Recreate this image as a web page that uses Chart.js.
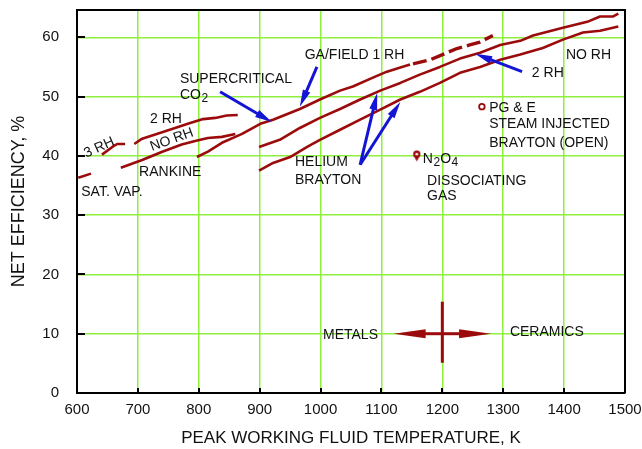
<!DOCTYPE html>
<html>
<head>
<meta charset="utf-8">
<title>Net efficiency vs peak working fluid temperature</title>
<script src="https://cdn.jsdelivr.net/npm/chart.js@4.4.1/dist/chart.umd.min.js"></script>
<style>
  html, body { margin: 0; padding: 0; background: #fff; }
  #c { display: block; }
</style>
</head>
<body>
<canvas id="c" width="642" height="449"></canvas>
<script>
// ---- axis ticks ----
const xTicks = [600, 700, 800, 900, 1000, 1100, 1200, 1300, 1400, 1500];
const yTicks = [0, 10, 20, 30, 40, 50, 60];

// ---- Rankine steam cycle curves [K, %] ----
const satVapDash  = [[602, 36.3], [623, 37.0]];
const rh3Dash     = [[641, 40.2], [658, 41.5], [666, 42.0], [679, 42.0]];
const rh2Rankine  = [[694, 42.0], [707, 42.9], [731, 43.7], [761, 44.7], [782, 45.4], [807, 46.2],
                     [827, 46.4], [846, 46.8], [864, 46.9]];
const noRhRankine = [[672, 38.0], [707, 39.3], [740, 40.7], [772, 41.9], [794, 42.5], [815, 43.0],
                     [838, 43.2], [860, 43.7]];

// ---- supercritical CO2 / GA field 1 RH ----
const gaFieldSolid  = [[797, 39.8], [815, 40.7], [838, 42.2], [860, 43.2], [871, 43.7], [901, 45.4],
                       [922, 46.1], [966, 47.9], [999, 49.5], [1032, 51.0], [1053, 51.7], [1086, 53.2],
                       [1109, 54.2], [1131, 54.9], [1147, 55.4]];
const gaFieldDashed = [[1147, 55.4], [1180, 56.2], [1224, 58.1], [1245, 58.7], [1262, 59.2], [1283, 60.3]];

// ---- helium Brayton curves ----
const heliumUpper = [[899, 41.5], [933, 42.7], [966, 44.7], [999, 46.4], [1032, 47.9], [1065, 49.5],
                     [1098, 51.0], [1131, 52.3], [1163, 53.7], [1196, 55.0], [1229, 56.4], [1262, 57.4],
                     [1295, 58.7], [1328, 59.4], [1349, 60.3], [1398, 61.6], [1438, 62.6], [1459, 63.5],
                     [1480, 63.5], [1489, 64.0]];
const heliumLower = [[899, 37.5], [922, 38.8], [950, 39.8], [978, 41.5], [999, 42.7], [1032, 44.4],
                     [1065, 46.1], [1098, 47.8], [1131, 49.5], [1163, 50.8], [1196, 52.3], [1229, 54.0],
                     [1262, 55.0], [1295, 56.2], [1328, 57.1], [1365, 58.2], [1398, 59.6], [1431, 60.8],
                     [1459, 61.1], [1489, 61.8]];

// ---- single-point cycles ----
const n2o4Point = [[1158, 40.0]];
const pgePoint  = [[1265, 48.3]];

// ---- pointer arrows: [tailX, tailY, tipX, tipY] ----
const pointerArrows = [
  [835, 50.8, 920, 45.7],     // supercritical CO2
  [994, 55.0, 966, 48.3],     // GA/FIELD 1 RH
  [1065, 38.5, 1093, 50.6],   // helium Brayton, upper
  [1065, 38.5, 1131, 49.1],   // helium Brayton, lower
  [1331, 54.2, 1254, 57.2]    // 2 RH
];

// ---- metals / ceramics marker ----
const materialsSpan  = [1120, 1280];   // horizontal double arrow, K
const materialsLevel = 10;             // %
const materialsSplit = 1200;           // K
const materialsTick  = [5.1, 15.4];    // vertical bar extent, %

// ---- annotations (anchor: left end of baseline, in data units) ----
const notes = [
  { parts: [['SUPERCRITICAL', 0]], x: 769, y: 52.3 },
  { parts: [['CO', 0], ['2', 1]], x: 769, y: 49.6 },
  { parts: [['2 RH', 0]], x: 720, y: 45.6 },
  { parts: [['NO RH', 0]], x: 723, y: 40.8, rot: -20 },
  { parts: [['3 RH', 0]], x: 615, y: 39.7, rot: -24 },
  { parts: [['RANKINE', 0]], x: 702, y: 36.6 },
  { parts: [['SAT. VAP.', 0]], x: 607, y: 33.2 },
  { parts: [['GA/FIELD 1 RH', 0]], x: 974, y: 56.4 },
  { parts: [['HELIUM', 0]], x: 958, y: 38.3 },
  { parts: [['BRAYTON', 0]], x: 958, y: 35.3 },
  { parts: [['N', 0], ['2', 1], ['O', 0], ['4', 1]], x: 1168, y: 38.8 },
  { parts: [['DISSOCIATING', 0]], x: 1175, y: 35.1 },
  { parts: [['GAS', 0]], x: 1175, y: 32.6 },
  { parts: [['PG & E', 0]], x: 1277, y: 47.4 },
  { parts: [['STEAM INJECTED', 0]], x: 1277, y: 44.7 },
  { parts: [['BRAYTON (OPEN)', 0]], x: 1277, y: 41.5 },
  { parts: [['NO RH', 0]], x: 1403, y: 56.4 },
  { parts: [['2 RH', 0]], x: 1347, y: 53.3 },
  { parts: [['METALS', 0]], x: 1004, y: 9.1 },
  { parts: [['CERAMICS', 0]], x: 1311, y: 9.6 }
];

// ---- styling ----
const RED = '#9c0b0b';
const BLUE = '#1414d4';
const GRID = '#8eef3c';
const INK = '#111';
const FONT = '"Liberation Sans", Arial, Helvetica, sans-serif';

const xy = arr => arr.map(p => ({ x: p[0], y: p[1] }));

function curve(arr, extra) {
  return Object.assign({
    data: xy(arr), showLine: true, borderColor: RED, borderWidth: 2.6,
    pointRadius: 0, pointHoverRadius: 0, tension: 0, fill: false,
    borderCapStyle: 'butt', borderJoinStyle: 'round'
  }, extra || {});
}

// small map-pin marker for the N2O4 point
function pinMarker() {
  const c = document.createElement('canvas');
  c.width = 9; c.height = 12;
  const g = c.getContext('2d');
  g.fillStyle = RED;
  g.beginPath(); g.arc(4.5, 4.2, 3.6, 0, Math.PI * 2); g.fill();
  g.beginPath(); g.moveTo(1.2, 5.8); g.lineTo(7.8, 5.8); g.lineTo(4.5, 11.5); g.closePath(); g.fill();
  g.fillStyle = '#fff';
  g.beginPath(); g.arc(4.5, 4.2, 1.3, 0, Math.PI * 2); g.fill();
  return c;
}

function arrow(ctx, x0, y0, x1, y1, color, shaftW, headLen, headHalf) {
  const a = Math.atan2(y1 - y0, x1 - x0);
  const c = Math.cos(a), s = Math.sin(a);
  const bx = x1 - headLen * c, by = y1 - headLen * s;
  ctx.strokeStyle = color; ctx.fillStyle = color;
  ctx.lineWidth = shaftW; ctx.lineCap = 'butt';
  ctx.beginPath(); ctx.moveTo(x0, y0); ctx.lineTo(bx + c * 2, by + s * 2); ctx.stroke();
  ctx.beginPath();
  ctx.moveTo(x1, y1);
  ctx.lineTo(bx + headHalf * s, by - headHalf * c);
  ctx.lineTo(bx - headHalf * s, by + headHalf * c);
  ctx.closePath(); ctx.fill();
}

function drawParts(ctx, parts, x, y, rot) {
  ctx.save();
  ctx.translate(x, y);
  if (rot) ctx.rotate(rot * Math.PI / 180);
  ctx.fillStyle = INK;
  ctx.textBaseline = 'alphabetic';
  ctx.textAlign = 'left';
  let cx = 0;
  parts.forEach(([t, sub]) => {
    ctx.font = (sub ? '12px ' : '14px ') + FONT;
    const dy = sub ? 3.5 : 0;
    if (sub) cx += 0.5;
    ctx.fillText(t, cx, dy);
    cx += ctx.measureText(t).width;
  });
  ctx.restore();
}

const decor = {
  id: 'decor',
  afterDatasetsDraw(chart) {
    const { ctx, scales: { x, y } } = chart;
    ctx.save();
    // blue pointer arrows
    pointerArrows.forEach(([ax, ay, bx, by]) => {
      arrow(ctx, x.getPixelForValue(ax), y.getPixelForValue(ay),
            x.getPixelForValue(bx), y.getPixelForValue(by), BLUE, 3, 17, 4);
    });
    // metals / ceramics double arrow with dividing bar
    const my = y.getPixelForValue(materialsLevel);
    const mx = x.getPixelForValue(materialsSplit);
    const l = x.getPixelForValue(materialsSpan[0]);
    const r = x.getPixelForValue(materialsSpan[1]);
    arrow(ctx, mx, my, l, my, RED, 3, 32, 4.5);
    arrow(ctx, mx, my, r, my, RED, 3, 32, 4.5);
    ctx.strokeStyle = RED; ctx.lineWidth = 3;
    ctx.beginPath();
    ctx.moveTo(mx, y.getPixelForValue(materialsTick[0]));
    ctx.lineTo(mx, y.getPixelForValue(materialsTick[1]));
    ctx.stroke();
    // text annotations
    notes.forEach(n => drawParts(ctx, n.parts, x.getPixelForValue(n.x), y.getPixelForValue(n.y), n.rot));
    ctx.restore();
  },
  afterDraw(chart) {
    const { ctx, chartArea: a, scales: { x, y } } = chart;
    ctx.save();
    ctx.strokeStyle = '#000';
    ctx.lineWidth = 2;
    // inward tick marks
    ctx.beginPath();
    yTicks.forEach(v => {
      const py = Math.round(y.getPixelForValue(v));
      ctx.moveTo(a.left, py); ctx.lineTo(a.left + 8, py);
    });
    xTicks.forEach(v => {
      const px = Math.round(x.getPixelForValue(v));
      ctx.moveTo(px, a.bottom); ctx.lineTo(px, a.bottom - 5);
    });
    ctx.stroke();
    // frame on the top and right
    ctx.beginPath();
    ctx.moveTo(a.left, a.top); ctx.lineTo(a.right, a.top); ctx.lineTo(a.right, a.bottom);
    ctx.stroke();
    ctx.restore();
  }
};

new Chart(document.getElementById('c'), {
  type: 'scatter',
  data: {
    datasets: [
      curve(satVapDash),
      curve(rh3Dash),
      curve(rh2Rankine),
      curve(noRhRankine),
      curve(gaFieldSolid),
      curve(gaFieldDashed, { borderDash: [14, 5], borderDashOffset: 16, borderWidth: 3.4 }),
      curve(heliumUpper),
      curve(heliumLower),
      { data: xy(n2o4Point), pointStyle: pinMarker(), pointRadius: 5, showLine: false },
      { data: xy(pgePoint), pointStyle: 'circle', pointRadius: 2.8, borderWidth: 1.8,
        borderColor: RED, backgroundColor: '#fff', showLine: false }
    ]
  },
  options: {
    responsive: false,
    devicePixelRatio: 1,
    animation: false,
    events: [],
    layout: { padding: { top: 10, right: 17, left: 0, bottom: 0 } },
    plugins: { legend: { display: false }, tooltip: { enabled: false } },
    scales: {
      x: {
        type: 'linear', min: 600, max: 1500,
        afterBuildTicks: s => { s.ticks = xTicks.map(v => ({ value: v })); },
        afterFit: s => { s.height = 56; s.paddingLeft = 0; s.paddingRight = 0; },
        grid: { color: GRID, lineWidth: 1.5, drawTicks: false },
        border: { color: '#000', width: 2 },
        ticks: { color: INK, padding: 8, maxRotation: 0, font: { family: FONT, size: 15 },
                 callback: v => String(v) },
        title: { display: true, text: 'PEAK WORKING FLUID TEMPERATURE, K', color: INK,
                 font: { family: FONT, size: 17 }, padding: { top: 0, bottom: 0 } }
      },
      y: {
        type: 'linear', min: 0, max: 64.6,
        afterBuildTicks: s => { s.ticks = yTicks.map(v => ({ value: v })); },
        afterFit: s => { s.width = 77; s.paddingTop = 0; s.paddingBottom = 0; },
        grid: { color: GRID, lineWidth: 1.5, drawTicks: false },
        border: { color: '#000', width: 2 },
        ticks: { color: INK, padding: 18, font: { family: FONT, size: 15 },
                 callback: v => String(v) },
        title: { display: true, text: 'NET EFFICIENCY, %', color: INK,
                 font: { family: FONT, size: 18 }, padding: { top: 8, bottom: 0 } }
      }
    }
  },
  plugins: [decor]
});
</script>
</body>
</html>
